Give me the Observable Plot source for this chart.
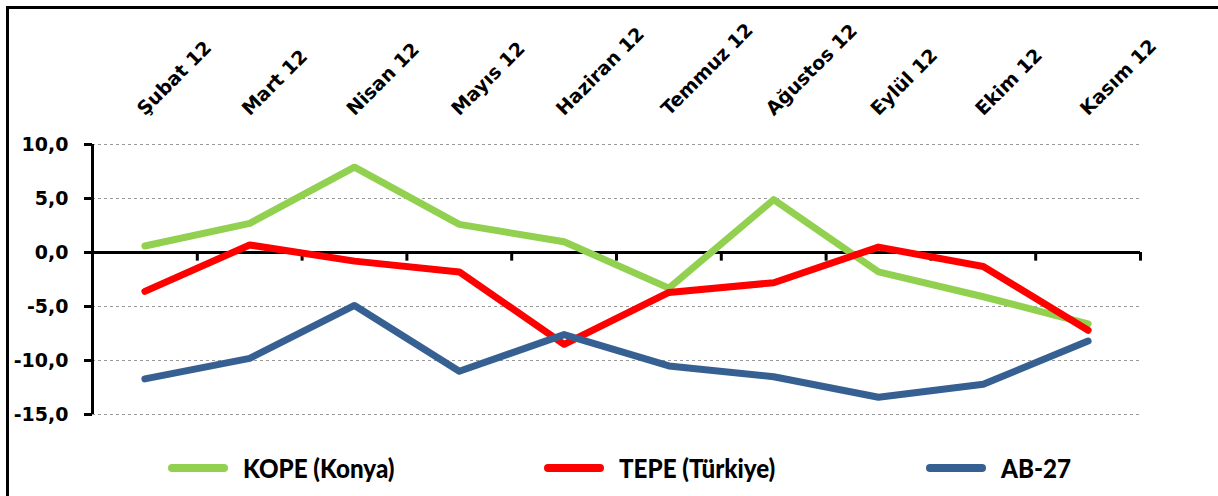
<!DOCTYPE html>
<html><head><meta charset="utf-8">
<script src="https://cdn.jsdelivr.net/npm/d3@7"></script>
<script src="https://cdn.jsdelivr.net/npm/@observablehq/plot@0.6"></script>
<style>
html,body{margin:0;padding:0;background:#fff;overflow:hidden;width:1218px;height:496px}
#frame{position:absolute;left:6px;top:6px;width:1240px;height:520px;border:3px solid #000;box-sizing:border-box;pointer-events:none}
#chart{position:absolute;left:0;top:0}
#legend{position:absolute;left:0;top:440px;width:1218px;height:56px}
.item{position:absolute;top:0;height:56px;display:flex;align-items:center}
.sw{width:60px;height:8px;border-radius:4px;margin-right:15px}
.lab{font:900 26px Lato,sans-serif;color:#000;white-space:nowrap;display:inline-block;transform:scaleX(0.93);transform-origin:left center}
</style>
</head><body>
<div id="chart"></div>
<div id="legend"></div>
<div id="frame"></div>
<script>
const months = ["Şubat 12","Mart 12","Nisan 12","Mayıs 12","Haziran 12","Temmuz 12","Ağustos 12","Eylül 12","Ekim 12","Kasım 12"];
const kope = [0.6, 2.7, 7.9, 2.6, 1.0, -3.3, 4.9, -1.8, -4.1, -6.6];
const tepe = [-3.6, 0.7, -0.8, -1.8, -8.5, -3.7, -2.8, 0.5, -1.3, -7.2];
const ab27 = [-11.7, -9.8, -4.9, -11.0, -7.6, -10.5, -11.5, -13.4, -12.2, -8.2];
const seriesNames = ["KOPE (Konya)", "TEPE (Türkiye)", "AB-27"];
const seriesColors = ["#92D050", "#FF0000", "#376092"];
const yTicks = [-15, -10, -5, 0, 5, 10];
const legendLefts = [168, 544, 926];

const allSeries = [kope, tepe, ab27];
const rows = [];
allSeries.forEach((vals, k) => vals.forEach((v, i) => rows.push({series: seriesNames[k], i, month: months[i], value: v})));

const fmt = d => d3.format(".1f")(d).replace(".", ",").replace("−", "-");

const chart = Plot.plot({
  width: 1218, height: 440,
  marginLeft: 92, marginRight: 78, marginTop: 144, marginBottom: 26,
  style: {fontFamily: "DejaVu Sans", fontWeight: "bold", fontSize: "19px", color: "#000", background: "transparent"},
  x: {domain: [0, months.length], axis: null},
  y: {domain: [-15, 10], axis: null},
  color: {domain: seriesNames, range: seriesColors},
  marks: [
    Plot.ruleY(yTicks.filter(d => d !== 0), {stroke: "#9a9a9a", strokeWidth: 1, strokeDasharray: "3,3"}),
    Plot.ruleY([0], {stroke: "#000", strokeWidth: 3}),
    Plot.ruleX(d3.range(1, months.length + 1), {y1: 0, y2: -0.8, stroke: "#000", strokeWidth: 3}),
    Plot.ruleX([0], {stroke: "#000", strokeWidth: 3}),
    Plot.axisY(yTicks, {anchor: "left", label: null, tickSize: 8, tickPadding: 16, strokeWidth: 3, tickFormat: fmt, fontSize: 19, fontWeight: "bold"}),
    Plot.text(months, {x: (d, i) => i + 0.5, frameAnchor: "top", dy: -28, rotate: -45, textAnchor: "start", lineAnchor: "bottom", fontSize: 19, fontWeight: "bold", fill: "#000"}),
    Plot.line(rows, {x: d => d.i + 0.5, y: "value", z: "series", stroke: "series", strokeWidth: 7, strokeLinecap: "round", strokeLinejoin: "round"})
  ]
});
document.getElementById("chart").appendChild(chart);

const legend = document.getElementById("legend");
seriesNames.forEach((name, k) => {
  const item = document.createElement("div");
  item.className = "item";
  item.style.left = legendLefts[k] + "px";
  const sw = document.createElement("span");
  sw.className = "sw";
  sw.style.background = seriesColors[k];
  const lab = document.createElement("span");
  lab.className = "lab";
  lab.textContent = name;
  item.appendChild(sw);
  item.appendChild(lab);
  legend.appendChild(item);
});
</script>
</body></html>
